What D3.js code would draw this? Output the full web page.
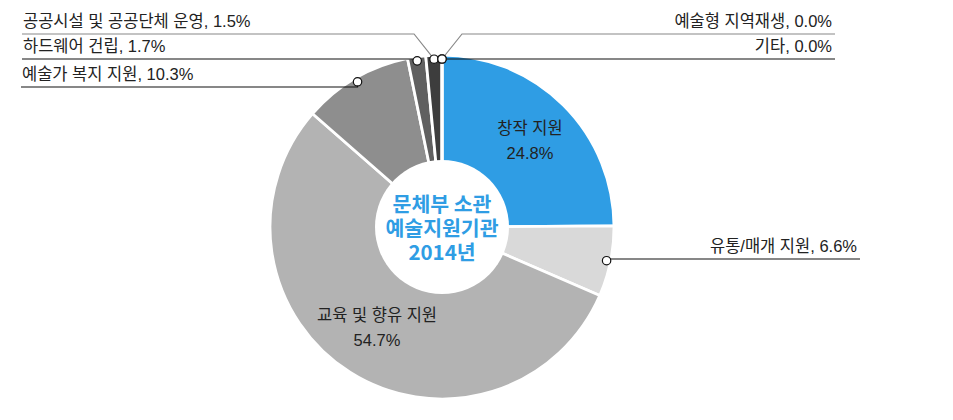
<!DOCTYPE html>
<html>
<head>
<meta charset="utf-8">
<script src="https://cdn.jsdelivr.net/npm/d3@7"></script>
<style>
  body { margin: 0; background: #fff; }
  svg { display: block; }
</style>
</head>
<body>
<div id="chart"></div>
<script>
// data
var categories = ["창작 지원", "유통/매개 지원", "교육 및 향유 지원", "예술가 복지 지원", "하드웨어 건립", "공공시설 및 공공단체 운영", "예술형 지역재생", "기타"];
var shares = [24.8, 6.6, 54.7, 10.3, 1.7, 1.5, 0.0, 0.0];
var centerTitle = ["문체부 소관", "예술지원기관", "2014년"];

var width = 953, height = 420;
var cx = 442, cy = 227;
var outerR = 172, innerR = 67, dotR = 168;

var colors = ["#2F9DE4", "#D9D9D9", "#B3B3B3", "#8E8E8E", "#606060", "#3D3D3D", "#3D3D3D", "#3D3D3D"];
var labelFont = "'Liberation Sans', 'Noto Sans CJK KR', sans-serif";

var svg = d3.select("#chart")
    .append("svg")
    .attr("width", width)
    .attr("height", height);

var g = svg.append("g")
    .attr("transform", "translate(" + cx + "," + cy + ")");

var pie = d3.pie().sort(null).value(function (d) { return d; });
var arcs = pie(shares);

var arc = d3.arc().innerRadius(0).outerRadius(outerR);

// slices
g.selectAll("path.slice")
    .data(arcs)
    .enter()
    .append("path")
    .attr("class", "slice")
    .attr("d", arc)
    .attr("fill", function (d, i) { return colors[i]; })
    .attr("stroke", "#fff")
    .attr("stroke-width", 2.8)
    .attr("stroke-linejoin", "round");

// Loch in der Mitte
g.append("circle")
    .attr("r", innerR)
    .attr("fill", "#fff");

// center title
g.append("text")
    .attr("text-anchor", "middle")
    .attr("font-family", "'Noto Sans CJK KR', sans-serif")
    .attr("font-weight", "bold")
    .attr("font-size", "20.5px")
    .attr("fill", "#2F9DE4")
    .selectAll("tspan")
    .data(centerTitle)
    .enter()
    .append("tspan")
    .attr("x", 0)
    .attr("y", function (d, i) { return -22 + i * 24 + 7; })
    .text(function (d) { return d; });

// inside labels (big slices)
var insideLabels = [
    { idx: 0, x: 88, y: -99 },
    { idx: 2, x: -65, y: 88 }
];
insideLabels.forEach(function (l) {
    var t = g.append("text")
        .attr("text-anchor", "middle")
        .attr("font-family", labelFont)
        .attr("font-size", "16.5px")
        .attr("fill", "#222");
    t.append("tspan").attr("x", l.x).attr("y", l.y + 6).text(categories[l.idx]);
    t.append("tspan").attr("x", l.x).attr("y", l.y + 31).text(shares[l.idx].toFixed(1) + "%");
});

// callouts: lineY in page coords, side, whether it bends, line colour
var callouts = [
    { idx: 1, lineY: 259, side: "right", end: 860, bend: false, stroke: "#111" },
    { idx: 3, lineY: 87, side: "left", end: 21, bend: false, stroke: "#111" },
    { idx: 4, lineY: 59, side: "left", end: 22, bend: false, stroke: "#111" },
    { idx: 5, lineY: 34, side: "left", end: 22, bend: true, stroke: "#888" },
    { idx: 6, lineY: 34, side: "right", end: 835, bend: true, stroke: "#888" },
    { idx: 7, lineY: 59, side: "right", end: 835, bend: false, stroke: "#111" }
];

var lineLayer = svg.append("g");
var dotLayer = svg.append("g");

callouts.forEach(function (c) {
    var a = arcs[c.idx];
    var mid = (a.startAngle + a.endAngle) / 2;
    var px = cx + dotR * Math.sin(mid);
    var py = cy - dotR * Math.cos(mid);
    var pts;
    if (c.bend) {
        var kx = c.side === "left" ? px - 20 : px + 20;
        pts = [[px, py], [kx, c.lineY], [c.end, c.lineY]];
    } else {
        pts = [[px, py], [px, c.lineY], [c.end, c.lineY]];
    }
    lineLayer.append("path")
        .attr("d", d3.line()(pts))
        .attr("fill", "none")
        .attr("stroke", c.stroke)
        .attr("stroke-width", 1.2);

    dotLayer.append("circle")
        .attr("cx", px)
        .attr("cy", py)
        .attr("r", 4.2)
        .attr("fill", "#fff")
        .attr("stroke", "#111")
        .attr("stroke-width", 1.2);

    var lx = c.side === "left" ? c.end + 1 : c.end - 3;
    svg.append("text")
        .attr("x", lx)
        .attr("y", c.lineY - 7)
        .attr("text-anchor", c.side === "left" ? "start" : "end")
        .attr("font-family", labelFont)
        .attr("font-size", "16.5px")
        .attr("fill", "#222")
        .text(categories[c.idx] + ", " + shares[c.idx].toFixed(1) + "%");
});
</script>
</body>
</html>
